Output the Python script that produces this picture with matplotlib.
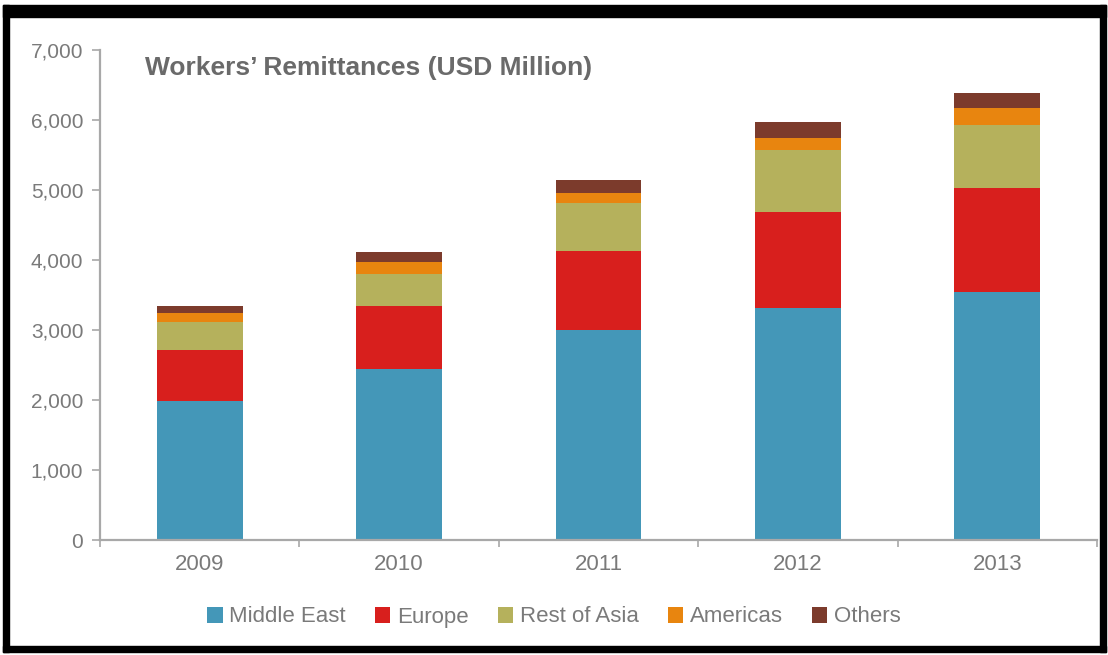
import matplotlib.pyplot as plt
from matplotlib.patches import Rectangle
import numpy as np

plt.rcParams["font.family"] = ["Liberation Sans", "DejaVu Sans"]

years = ["2009", "2010", "2011", "2012", "2013"]
middle_east = [1990, 2440, 3000, 3310, 3540]
europe = [730, 900, 1130, 1370, 1490]
rest_of_asia = [390, 460, 680, 890, 900]
americas = [130, 170, 140, 170, 240]
others = [110, 150, 190, 230, 210]

series = [
    ("Middle East", middle_east, "#4497b8"),
    ("Europe", europe, "#d81f1d"),
    ("Rest of Asia", rest_of_asia, "#b5b15c"),
    ("Americas", americas, "#e8850f"),
    ("Others", others, "#7c3b2c"),
]

W, H = 1108, 655
fig = plt.figure(figsize=(W / 100, H / 100), dpi=100)
ax = fig.add_axes([100 / W, 115 / H, 997 / W, 490 / H])

x = np.arange(len(years))
bottom = np.zeros(len(years))
for name, vals, col in series:
    ax.bar(x, vals, 0.43, bottom=bottom, color=col, label=name, linewidth=0)
    bottom += np.array(vals)

ax.set_xlim(-0.5, len(years) - 0.5)
ax.set_ylim(0, 7000)
ax.set_yticks(range(0, 7001, 1000))
ax.set_yticklabels([f"{v:,}" for v in range(0, 7001, 1000)])
ax.set_xticks(x)
ax.set_xticklabels(years)
ax.set_xticks(np.arange(-0.5, len(years), 1), minor=True)

grey = "#a8a8a8"
for s in ["top", "right"]:
    ax.spines[s].set_visible(False)
for s in ["left", "bottom"]:
    ax.spines[s].set_color(grey)
    ax.spines[s].set_linewidth(1.6)

ax.tick_params(axis="y", colors=grey, length=6, width=1.2, pad=6,
               labelsize=15, labelcolor="#7a7a7a")
ax.tick_params(axis="x", which="major", length=0, pad=10,
               labelsize=16, labelcolor="#7a7a7a")
ax.tick_params(axis="x", which="minor", colors=grey, length=5, width=1.2)

ax.text(145 / W, 1 - 68 / H, "Workers\u2019 Remittances (USD Million)",
        transform=fig.transFigure, fontsize=19, fontweight="bold",
        color="#6a6a6a", va="center", ha="left")

fig.legend(loc="center left", bbox_to_anchor=(196 / W, 1 - 617 / H),
           ncol=5, frameon=False, fontsize=16, handlelength=0.7,
           handleheight=0.7, handletextpad=0.3, columnspacing=1.3,
           borderpad=0, labelcolor="#7a7a7a")

# black picture frame
for x0, y0, w, h in [(3, 5, 1103, 12), (3, 5, 6, 647), (1100, 5, 6, 647), (3, 646, 1103, 6)]:
    fig.patches.append(Rectangle((x0 / W, 1 - (y0 + h) / H), w / W, h / H,
                                 transform=fig.transFigure, color="black"))

fig.savefig("out.png", dpi=100)
